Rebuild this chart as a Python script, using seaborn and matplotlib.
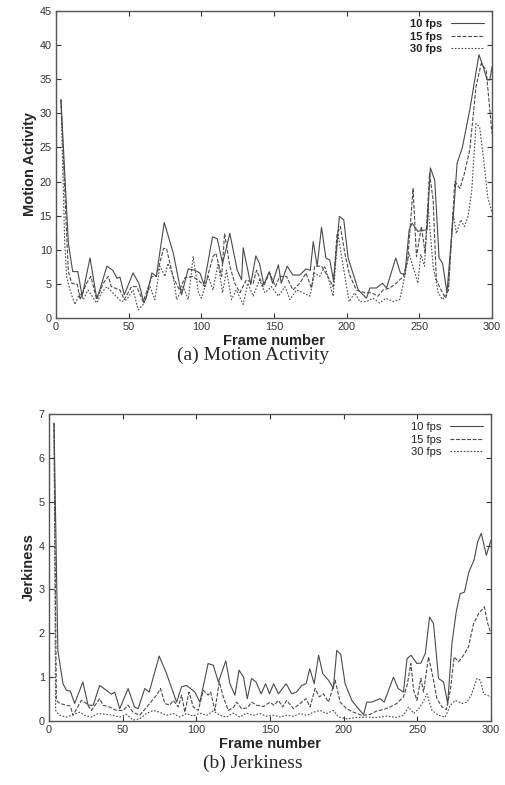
import matplotlib
matplotlib.use("Agg")
import matplotlib.pyplot as plt
import pandas as pd
import seaborn as sns

_output = "out.png"
_size = (5.06, 7.85)
_dpi = 100

rates = ["10 fps", "15 fps", "30 fps"]

# (a) motion activity, vertices
ma_x_10 = [3.4, 8.5, 11.5, 15, 18, 23.4, 28, 30, 35, 39, 42, 44, 47, 53, 57, 60.5, 62, 66, 69, 74.5,
           80.7, 86.4, 91, 95.5, 99, 101.8, 107.7, 111, 114.6, 119.6, 124.7, 127.7, 128.8, 134, 137.5,
           140, 143, 146.7, 149, 153, 155, 159, 163, 167.8, 172, 175, 177, 179.7, 182.7, 185.7, 188.4,
           191, 195, 198, 201, 208, 213.6, 216, 220.5, 224.6, 227.4, 233.8, 237, 240, 243, 245, 249,
           254, 255.3, 257.6, 260.6, 263.6, 266, 269, 273.7, 276, 279.6, 284.7, 291, 294, 296.6, 298.5, 300]
ma_y_10 = [32, 11, 6.8, 6.8, 3.2, 8.8, 2.9, 4, 7.6, 7, 5.8, 6, 3.4, 6.6, 5.1, 2.2, 2.9, 6.6, 6.1, 14,
           9.5, 3.4, 7.2, 7, 6.6, 4.9, 11.9, 11.6, 8, 12.4, 7, 5.6, 10.3, 4.9, 9.1,
           8, 4.9, 6.8, 5.1, 7.8, 5.1, 7.6, 6.3, 6.3, 7.2, 7, 11.2, 7.6, 13.3, 8.8, 8.5,
           5.4, 14.9, 14.4, 8.8, 4.1, 2.9, 4.4, 4.4, 5.1, 4.4, 8.8, 6.6, 6.3, 12.9, 13.9, 12.7,
           12.9, 12.9, 22, 20.2, 8.8, 8, 3.7, 15.9, 22.7, 25, 30.5, 38.6, 36.8, 34.9, 34.9, 36.8]

ma_x_15 = [3.4, 7.3, 8.5, 10.8, 14.7, 16.5, 21, 24, 28, 32.5, 36, 38, 44, 47, 52, 55.5, 60, 66, 69,
           74, 76, 80.7, 85, 88.7, 94, 98.6, 102.4, 108, 110, 114, 116, 119.6, 123, 126.5, 131, 135.7,
           138, 142.6, 147, 151, 154, 158.6, 163, 167.8, 172, 175.8, 178, 182.7, 187, 190.7, 193.4,
           195.7, 198.7, 202, 206.7, 212.5, 217, 221.6, 225, 229.7, 234, 239, 242, 245.7, 248, 251.4,
           254, 257, 259.5, 261.7, 265, 268, 270, 274.4, 278, 281, 284.7, 289, 292.6, 296, 300]
ma_y_15 = [32, 12.4, 6.8, 5.1, 4.9, 2.7, 5.1, 6.1, 2.7, 5.1, 6.1, 4.6, 4.1, 2.7, 4.6, 4.6, 2.4, 6.1, 6.1,
           10.2, 10.2, 5.9, 4.1, 5.9, 6.1, 5.4, 4.6, 9, 9.5, 6.1, 12.4, 7.6, 5.1, 3.7, 5.6, 5.1,
           7, 4.6, 6.6, 4.6, 6.1, 6.1, 4.1, 5.1, 6.6, 4.4, 7.6, 7.6, 6.1, 4.6, 12.4,
           13.4, 9.5, 6.3, 4.1, 3.7, 3.7, 3.2, 4.1, 4.4, 5.1, 6.1, 8.5, 19, 9, 13.4,
           9.5, 21.2, 17.3, 5.6, 4.1, 2.9, 4.1, 20, 19, 21.2, 24.6, 33.9, 37.3, 36.3, 27]

ma_x_30 = [3.4, 6, 7.3, 9.6, 13, 16.5, 18.8, 22, 28, 31.4, 35, 39, 45, 48.6, 53, 56.6, 60, 64.6, 68,
           71.5, 75, 77, 80.7, 83, 87.5, 91, 94.4, 98, 100, 104.7, 108, 111.6, 114.6, 117.3, 120.8,
           124, 128.8, 132, 135.7, 140, 143.7, 148.3, 153, 157.5, 161, 165.5, 170, 174.6, 178, 181.5,
           185, 187, 190.7, 194, 197.6, 201.7, 205.6, 209, 213.6, 218, 222.8, 227, 232, 236.5, 240,
           242.9, 249, 251, 253.5, 256, 259.5, 263, 266, 270, 273.2, 275.5, 278.5, 281, 283.5, 286,
           289, 291.5, 294, 297, 300]
ma_y_30 = [32, 11, 6.1, 4.1, 2, 3.7, 2.7, 4.1, 2.2, 3.7, 4.6, 3.7, 2.4, 2.7, 4.1, 1.2, 2, 4.6, 2.7,
           7.6, 6.1, 8, 6.1, 2.7, 4.6, 2.7, 9, 3.7, 2.9, 6.1, 4.1, 8, 3.7, 7, 2.7,
           4.1, 2, 5.1, 3.2, 5.6, 3.7, 4.6, 3.2, 4.6, 2.7, 4.1, 3.7, 3.2, 6.6, 6.1,
           7.6, 6.1, 3.2, 12.4, 7.6, 2.4, 3.7, 2.4, 2.4, 2.9, 2.2, 2.9, 2.4, 2.7, 6.1,
           9.5, 5.1, 9.3, 7.6, 16.4, 7.6, 3.7, 2.7, 4.1, 15.4, 12.4, 14.4, 13.4, 14.9, 18.5,
           28.5, 28, 23.7, 17.8, 15.4]

# (b) jerkiness
jk_x_10 = [3.4, 6, 9.5, 11.8, 14.5, 17.4, 23, 26.5, 30, 34.4, 39, 42.4, 44.6, 48, 53.7, 58, 60.5, 65,
           68, 74.8, 79.8, 86.6, 90, 93.4, 99, 102.4, 108, 111.5, 115, 120, 122.8, 126.2, 129, 132,
           134.6, 137.5, 140.5, 144, 147, 149.7, 152.5, 155.7, 161, 164.7, 168, 171.5, 174.5, 177,
           180, 183, 185.8, 189.7, 193, 195.3, 198, 201, 205.5, 210, 213.5, 215.7, 219, 224.8, 227.5,
           233.8, 237, 240.6, 243, 245.7, 249.7, 252.4, 255.4, 258.3, 261, 264.4, 267.8, 270.6,
           273.5, 276.4, 279, 282, 285, 288.5, 291, 293.4, 296.8, 300]
jk_y_10 = [6.79, 1.61, 0.85, 0.7, 0.68, 0.4, 0.89, 0.36, 0.36, 0.81, 0.7, 0.61, 0.66, 0.28, 0.74, 0.32,
           0.28, 0.74, 0.66, 1.48, 1.08, 0.43, 0.78, 0.81, 0.66, 0.43, 1.31, 1.27, 0.89, 1.37, 0.85,
           0.59, 1.16, 1.0, 0.51, 0.97, 0.89, 0.62, 0.85, 0.62, 0.85, 0.62, 0.85, 0.62, 0.66, 0.81,
           0.85, 1.19, 0.85, 1.5, 1.08, 0.93, 0.74, 1.61, 1.52, 0.85, 0.47, 0.28, 0.15, 0.43, 0.43,
           0.51, 0.43, 1.0, 0.74, 0.66, 1.42, 1.5, 1.31, 1.32, 1.54, 2.37, 2.22, 0.97, 0.89, 0.4,
           1.77, 2.49, 2.9, 2.94, 3.4, 3.67, 4.09, 4.28, 3.78, 4.12]

jk_x_15 = [3.4, 5, 7.3, 11.8, 14.5, 16.3, 22, 25.4, 28.8, 34.4, 36.7, 41, 45.8, 50.3, 53.7, 57, 61.6,
           67.3, 73, 75.7, 78.6, 82, 84.3, 87.7, 90, 92.2, 95, 97.9, 101.3, 104.7, 108, 109.7, 112.6,
           115.6, 118.3, 121.7, 125.5, 127.4, 130.7, 134.6, 137.5, 141, 145.5, 150, 152.7, 155.7,
           158.6, 161.3, 166, 170.4, 174.5, 177.2, 180.6, 183.5, 186.3, 189.7, 194.2, 197.6, 202,
           206.7, 212.3, 218, 222.5, 227, 231.6, 236, 240.6, 243.3, 245.6, 247.5, 249.7, 252.4,
           254.2, 257.6, 260.6, 263.3, 266.7, 269.7, 272.4, 275, 278, 281.4, 284.7, 288.2, 291.6,
           295.5, 297.8, 300]
jk_y_15 = [6.79, 0.47, 0.4, 0.36, 0.34, 0.13, 0.47, 0.4, 0.24, 0.51, 0.36, 0.32, 0.24, 0.24, 0.36, 0.2,
           0.13, 0.36, 0.59, 0.74, 0.4, 0.36, 0.47, 0.32, 0.59, 0.2, 0.66, 0.32, 0.24, 0.7, 0.59, 0.66,
           0.24, 0.89, 0.55, 0.24, 0.32, 0.43, 0.28, 0.3, 0.43, 0.36, 0.33, 0.43, 0.36, 0.47, 0.32,
           0.47, 0.28, 0.4, 0.51, 0.32, 0.74, 0.55, 0.62, 0.43, 0.93, 0.43, 0.28, 0.2, 0.13, 0.15,
           0.23, 0.26, 0.32, 0.4, 0.55, 0.85, 1.31, 0.7, 0.47, 0.97, 0.66, 1.46, 1.0, 0.51, 0.32,
           0.26, 0.7, 1.46, 1.35, 1.5, 1.69, 2.22, 2.45, 2.6, 2.22, 1.99]

jk_x_30 = [3.4, 4.5, 7.2, 11.8, 15.2, 20.8, 24.2, 28.8, 33.3, 39, 43.5, 48, 52.6, 57, 61.6, 66, 70.7,
           75.2, 79.8, 84.3, 88.8, 93.4, 97.9, 102.4, 107, 111.5, 116, 120.5, 125, 129.6, 134, 138.7,
           143.2, 147.7, 152.3, 156.8, 161.3, 165.9, 170.4, 175, 179.5, 184, 188.5, 193, 196.5, 202,
           209, 215.7, 222.5, 229.3, 236, 240.6, 244, 247.5, 251, 253.8, 256.5, 260, 264.4, 269,
           272.4, 275.8, 280.3, 283.7, 287, 290.5, 292.8, 295, 300]
jk_y_30 = [6.79, 0.24, 0.13, 0.09, 0.13, 0.2, 0.13, 0.09, 0.17, 0.15, 0.13, 0.09, 0.15, 0.02, 0.05, 0.17,
           0.24, 0.2, 0.13, 0.17, 0.09, 0.17, 0.11, 0.18, 0.13, 0.23, 0.13, 0.09, 0.18, 0.09, 0.18,
           0.13, 0.17, 0.11, 0.13, 0.09, 0.13, 0.11, 0.17, 0.13, 0.2, 0.24, 0.17, 0.24, 0.09, 0.05,
           0.08, 0.09, 0.08, 0.11, 0.08, 0.13, 0.32, 0.17, 0.28, 0.43, 0.62, 0.24, 0.13, 0.09, 0.36,
           0.47, 0.4, 0.43, 0.62, 0.97, 0.93, 0.62, 0.55]

ma_ticks = list(range(0, 46, 5))
jk_ticks = list(range(0, 8))
x_ticks = list(range(0, 301, 50))

line_styles = {"10 fps": "-", "15 fps": (0, (3.5, 1.5)), "30 fps": (0, (1.5, 1.5))}
line_color = "#4a4a4a"


def series_frame(xs, ys):
    rows = []
    for rate, x, y in zip(rates, xs, ys):
        rows.append(pd.DataFrame({"Frame": x, "Value": y, "Rate": rate}))
    return pd.concat(rows, ignore_index=True)


def draw(ax, df, ylabel, yticks, ymax, bold_legend):
    for rate in rates:
        sub = df[df["Rate"] == rate]
        sns.lineplot(x="Frame", y="Value", data=sub, ax=ax, color=line_color,
                     linewidth=0.8, linestyle=line_styles[rate], label=rate,
                     estimator=None, sort=False)
    ax.set_xlim(0, 300)
    ax.set_ylim(0, ymax)
    ax.set_xticks(x_ticks)
    ax.set_yticks(yticks)
    ax.tick_params(direction="in", length=3.5, width=0.8, top=True, right=True,
                   labelsize=7.8, colors="#333333", pad=3)
    for s in ax.spines.values():
        s.set_color("#555555")
        s.set_linewidth(1.0)
    ax.set_xlabel("Frame number", fontsize=10.5, fontweight="bold", labelpad=1)
    ax.set_ylabel(ylabel, fontsize=10.5, fontweight="bold", labelpad=2)
    leg = ax.legend(loc="upper right", frameon=False, markerfirst=False, handlelength=3.0,
                    borderaxespad=0.3, labelspacing=0.25, handletextpad=0.8,
                    prop={"weight": "bold" if bold_legend else "normal", "size": 8})
    for t in leg.get_texts():
        t.set_color("#222222")


if __name__ == "__main__":
    sns.set_style("ticks")
    plt.rcParams["font.family"] = ["Liberation Sans", "DejaVu Sans"]

    fig = plt.figure(figsize=_size, dpi=_dpi)
    ax_a = fig.add_axes([56 / 506, 1 - 318 / 785, 436 / 506, 307 / 785])
    ax_b = fig.add_axes([49 / 506, 1 - 721 / 785, 442 / 506, 307 / 785])

    draw(ax_a, series_frame([ma_x_10, ma_x_15, ma_x_30], [ma_y_10, ma_y_15, ma_y_30]),
         "Motion Activity", ma_ticks, 45, True)
    draw(ax_b, series_frame([jk_x_10, jk_x_15, jk_x_30], [jk_y_10, jk_y_15, jk_y_30]),
         "Jerkiness", jk_ticks, 7, False)

    fig.text(253 / 506, 1 - 355 / 785, "(a) Motion Activity", ha="center", va="center",
             fontsize=14, family=["Liberation Serif", "DejaVu Serif"])
    fig.text(253 / 506, 1 - 763 / 785, "(b) Jerkiness", ha="center", va="center",
             fontsize=14, family=["Liberation Serif", "DejaVu Serif"])

    fig.savefig(_output, dpi=_dpi)
